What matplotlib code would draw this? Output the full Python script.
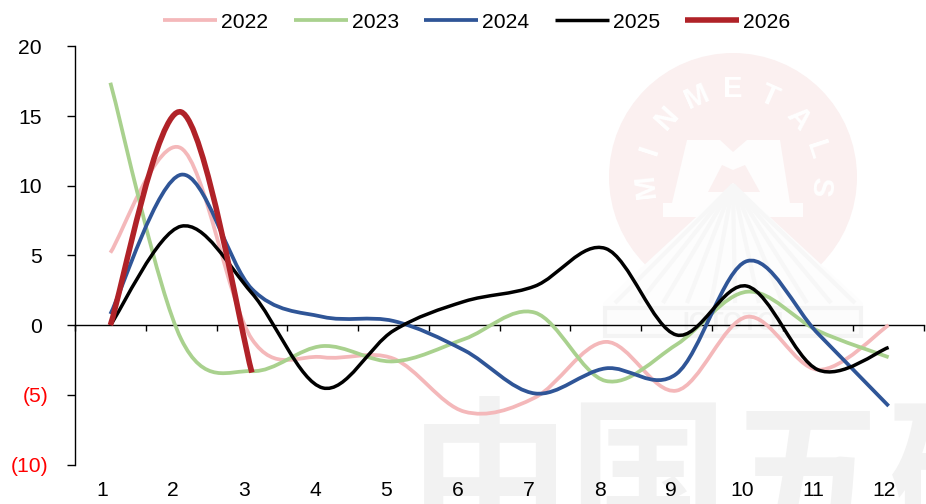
import matplotlib
matplotlib.use('Agg')
import matplotlib.pyplot as plt
from matplotlib.lines import Line2D
from matplotlib.path import Path
from matplotlib.patches import PathPatch, Polygon, Circle, Rectangle
from matplotlib.transforms import blended_transform_factory
import math

plt.rcParams['font.family'] = ['Liberation Sans', 'DejaVu Sans']

months = [1, 2, 3, 4, 5, 6, 7, 8, 9, 10, 11, 12]
y2022 = [5.2, 12.7, -1.0, -2.3, -2.4, -6.2, -5.2, -1.2, -4.7, 0.6, -3.2, 0.0]
y2023 = [17.4, -1.0, -3.3, -1.5, -2.6, -1.0, 0.9, -4.0, -1.4, 2.4, -0.4, -2.3]
y2024 = [0.8, 10.8, 2.6, 0.6, 0.3, -1.8, -4.9, -3.1, -3.5, 4.6, -0.6, -5.8]
y2025 = [0.0, 7.1, 2.3, -4.5, -0.4, 1.7, 2.8, 5.5, -0.7, 2.8, -3.2, -1.6]
y2026 = [0.0, 15.3, -3.4]

y_ticks = [20, 15, 10, 5, 0, -5, -10]
y_labels = ['20', '15', '10', '5', '0', '(5)', '(10)']

W, H = 926, 504
fig = plt.figure(figsize=(W / 100, H / 100), dpi=100)


def smooth_path(xs, ys):
    # same kind of smoothing as an Excel line: one bezier per month
    verts = [(xs[0], ys[0])]
    codes = [Path.MOVETO]
    n = len(xs)
    for i in range(n - 1):
        a = max(i - 1, 0)
        b = min(i + 2, n - 1)
        verts.append((xs[i] + (xs[i + 1] - xs[a]) / 6, ys[i] + (ys[i + 1] - ys[a]) / 6))
        verts.append((xs[i + 1] - (xs[b] - xs[i]) / 6, ys[i + 1] - (ys[b] - ys[i]) / 6))
        verts.append((xs[i + 1], ys[i + 1]))
        codes += [Path.CURVE4, Path.CURVE4, Path.CURVE4]
    return Path(verts, codes)


# watermark goes in its own axes, in pixels
bg = fig.add_axes([0, 0, 1, 1], zorder=0)
bg.set_xlim(0, W)
bg.set_ylim(H, 0)
bg.axis('off')

pink = '#FBF0F0'
cx, cy = 733, 177
bg.add_patch(Circle((cx, cy), 124, fc=pink, ec='none'))
m_shape = [(663, 217), (803, 217), (803, 203), (790, 203), (780, 140), (747, 140), (733, 152),
           (720, 140), (687, 140), (672, 203), (663, 203)]
bg.add_patch(Polygon(m_shape, fc='#FEFDFD', ec='none'))
bg.add_patch(Polygon([(708, 192), (722, 165), (733, 170), (745, 165), (760, 192)], fc=pink, ec='none'))
bg.add_patch(Polygon([(603, 303), (733, 183), (863, 303), (863, 337), (603, 337)], fc='#FDFDFD', ec='none'))
for end_x in range(615, 860, 24):
    bg.plot([733, end_x], [185, 303], color='#F7F7F7', lw=3, solid_capstyle='butt')
bg.add_patch(Rectangle((605, 308), 256, 28, fc='#FCFCFC', ec='#F4F4F4', lw=3))
bg.text(733, 323, 'IOTOTOI', color='#F3F3F3', fontsize=18, fontweight='bold', ha='center', va='center')
for i, ch in enumerate('MINMETALS'):
    ang = math.radians(-96 + 24 * i)
    bg.text(cx + 88 * math.sin(ang), cy - 88 * math.cos(ang), ch, color='white', fontsize=21,
            fontweight='bold', rotation=-math.degrees(ang), ha='center', va='center')
bg.text(410, 484, '中国五矿', color='#F2F2F2', fontsize=115, fontweight='bold',
        family=['Noto Sans CJK SC', 'DejaVu Sans'], ha='left', va='center')

ax = fig.add_axes([75 / W, 1 - 464.5 / H, 849 / W, 418 / H], zorder=1)
ax.patch.set_alpha(0)
ax.set_xlim(0.5, 12.5)
ax.set_ylim(-10, 20)

series = [('2022', y2022, '#F4B8BA', 2.7), ('2023', y2023, '#A9D18E', 2.7), ('2024', y2024, '#2F5597', 2.7),
          ('2025', y2025, '#000000', 2.5), ('2026', y2026, '#B02228', 4.0)]
handles = []
for k, (name, vals, col, lw) in enumerate(series):
    p = smooth_path(months[:len(vals)], vals)
    ax.add_patch(PathPatch(p, fc='none', ec=col, lw=lw, capstyle='butt', joinstyle='round', zorder=3 + k))
    handles.append(Line2D([], [], color=col, lw=lw, solid_capstyle='butt', label=name))

for s in ['top', 'right']:
    ax.spines[s].set_visible(False)
ax.spines['bottom'].set_position(('data', 0))
for s in ['left', 'bottom']:
    ax.spines[s].set_linewidth(1.0)

# category boundaries carry the ticks, labels sit apart at the bottom
ax.set_xticks([m - 0.5 for m in months] + [12.5])
ax.set_xticklabels([])
ax.tick_params(axis='x', length=4.5, width=1.0, direction='out')
ax.set_yticks(y_ticks)
ax.set_yticklabels(y_labels, fontsize=15.2)
ax.tick_params(axis='y', length=6, width=1.0)
for tick, v in zip(ax.yaxis.get_major_ticks(), y_ticks):
    if v < 0:
        tick.set_pad(13)
        tick.label1.set_color('#FF0000')
    else:
        tick.set_pad(18)

trans = blended_transform_factory(ax.transData, ax.transAxes)
for m in months:
    # labels in the reference drift a little from the points
    ax.annotate(str(m), xy=(m, 0), xycoords=trans, xytext=(-6 + 0.24 * (m - 1), -19), textcoords='offset points',
                ha='center', va='center', fontsize=15.2, annotation_clip=False)

fig.legend(handles=handles, loc='center', bbox_to_anchor=(477 / W, 1 - 22 / H), ncol=5, frameon=False,
           fontsize=15.2, handlelength=2.55, handletextpad=0.2, columnspacing=1.2, borderpad=0, borderaxespad=0)

fig.savefig('out.png', dpi=100)
